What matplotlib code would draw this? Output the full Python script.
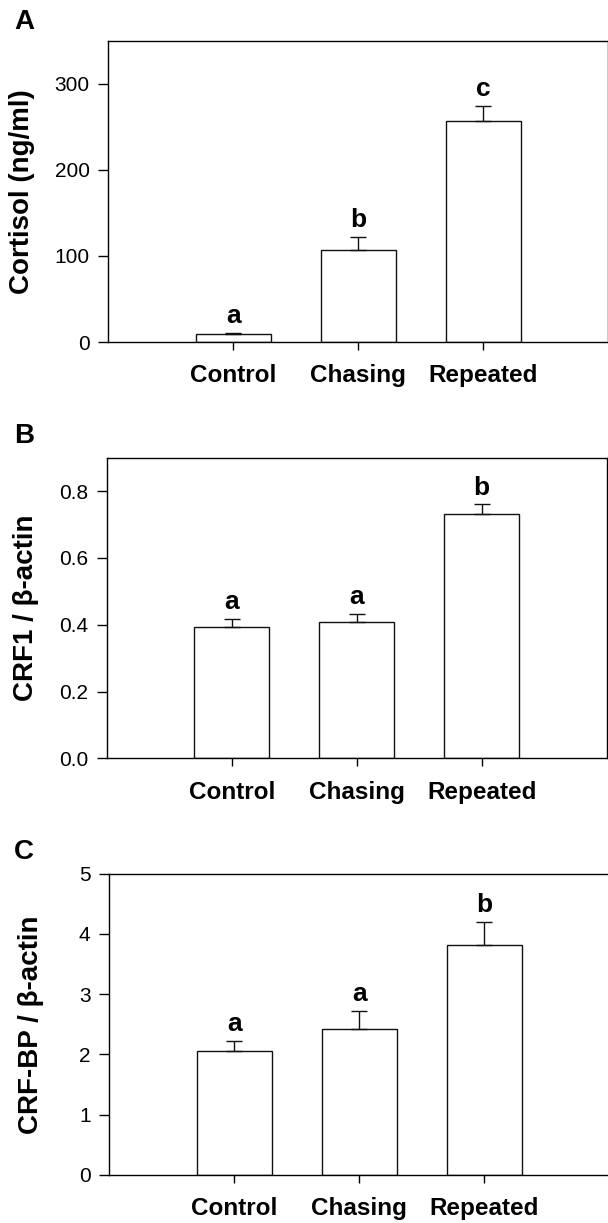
import matplotlib
matplotlib.use("Agg")
import matplotlib.pyplot as plt
import numpy as np

plt.rcParams['font.family'] = ['Liberation Sans', 'DejaVu Sans']

groups = ['Control', 'Chasing', 'Repeated']

cortisol = [9.7, 107.4, 256.6]
cortisol_err = [0.8, 15.1, 17.4]
cortisol_sig = ['a', 'b', 'c']

crf1 = [0.392, 0.409, 0.730]
crf1_err = [0.026, 0.024, 0.030]
crf1_sig = ['a', 'a', 'b']

crfbp = [2.06, 2.42, 3.81]
crfbp_err = [0.17, 0.30, 0.39]
crfbp_sig = ['a', 'a', 'b']

W, H = 608, 1223
fig = plt.figure(figsize=(W / 100, H / 100), dpi=100)

# tag, data, label, ticks, ymax, tick format, top/bottom/left px, tag y px, ylabel x
panels = [
    ('A', cortisol, cortisol_err, cortisol_sig, 'Cortisol (ng/ml)',
     [0, 100, 200, 300], 350, '{:.0f}', 40.7, 342, 108.3, 22, -0.172),
    ('B', crf1, crf1_err, crf1_sig, 'CRF1 / β-actin',
     [0.0, 0.2, 0.4, 0.6, 0.8], 0.9, '{:.1f}', 457.7, 758.3, 106.7, 436, -0.161),
    ('C', crfbp, crfbp_err, crfbp_sig, 'CRF-BP / β-actin',
     [0, 1, 2, 3, 4, 5], 5, '{:.0f}', 873.7, 1175, 109.3, 852, -0.157),
]

x = np.arange(1, len(groups) + 1)
axw = 500  # px, x range 0..4

for (tag, vals, errs, sig, ylab, yt, ymax, fmt,
     top, bot, left, tag_y, lab_x) in panels:
    ax = fig.add_axes([left / W, 1 - bot / H, axw / W, (bot - top) / H])
    ax.bar(x, vals, width=0.6, color='white', edgecolor='#111111', linewidth=1)
    ax.errorbar(x, vals, yerr=[np.zeros(len(vals)), errs], fmt='none',
                ecolor='#111111', elinewidth=1, capsize=6, capthick=1)
    for xi, v, e, s in zip(x, vals, errs, sig):
        ax.annotate(s, (xi, v + e), xytext=(0, 7), textcoords='offset points',
                    ha='center', va='baseline', fontsize=19, fontweight='bold')
    ax.set_xlim(0, 4)
    ax.set_ylim(0, ymax)
    ax.set_xticks(x)
    ax.set_xticklabels(groups, fontsize=17.5, fontweight='bold')
    ax.set_yticks(yt)
    ax.set_yticklabels([fmt.format(t) for t in yt], fontsize=15)
    ax.tick_params(axis='x', length=5.5, width=1, pad=10.5)
    ax.tick_params(axis='y', length=7, width=1, pad=6.5)
    for sp in ax.spines.values():
        sp.set_linewidth(1)
    ax.set_ylabel(ylab, fontsize=20, fontweight='bold', va='center')
    ax.yaxis.set_label_coords(lab_x, 0.5)
    fig.text(24 / W, 1 - tag_y / H, tag, fontsize=20, fontweight='bold',
             ha='center', va='center')

fig.savefig('out.png', dpi=100)
